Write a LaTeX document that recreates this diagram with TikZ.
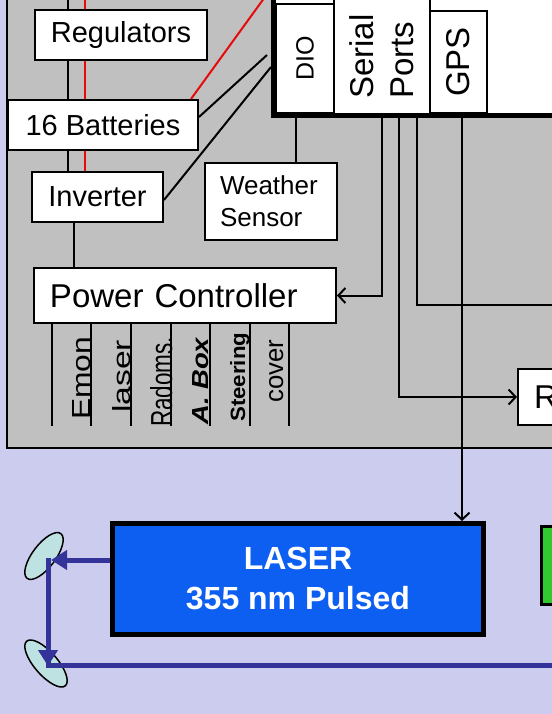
\documentclass[tikz,border=0pt]{standalone}
\usepackage{fontspec}
\usepackage{graphicx}
\setmainfont{Liberation Sans}
\usetikzlibrary{arrows.meta,shapes.geometric}
\definecolor{lav}{RGB}{204,204,238}
\definecolor{panel}{RGB}{192,192,192}
\definecolor{beamc}{RGB}{51,51,153}
\definecolor{laserc}{RGB}{12,95,240}
\definecolor{mirc}{RGB}{190,225,225}
\definecolor{grn}{RGB}{50,200,50}
\definecolor{redl}{RGB}{230,10,10}
\newcommand\fsz[2]{\fontsize{#1bp}{#2bp}\selectfont}
\pgfdeclarelayer{back}
\pgfdeclarelayer{wires}
\pgfsetlayers{back,wires,main}
\begin{document}
\begin{tikzpicture}[x=1bp,y=-1bp,
 box/.style={draw, line width=2bp, fill=white, inner sep=0pt},
 wire/.style={line width=2bp},
 redwire/.style={line width=2bp, draw=redl},
 arr/.style={line width=2bp, -{Straight Barb[length=7bp,width=15bp]}},
 beam/.style={line width=5bp, draw=beamc},
 beamarr/.style={beam, -{Triangle[length=16bp,width=19bp]}},
 vlab/.style={rotate=90, anchor=base west, inner sep=0pt},
 mirror/.style={ellipse, draw, line width=1.5bp, fill=mirc, inner sep=0pt},
]
\useasboundingbox (0,0) rectangle (552,714);
\begin{pgfonlayer}{back}
\fill[lav] (0,0) rectangle (552,714);
\draw[fill=panel, line width=2bp] (7,-20) rectangle (600,448);
\end{pgfonlayer}

% left column boxes
\node[box, minimum width=172bp, minimum height=50bp, font=\fsz{29}{34}] (reg) at (121,35) {Regulators};
\node[box, minimum width=190bp, minimum height=50bp, font=\fsz{29}{34}] (batt) at (103,125) {16 Batteries};
\node[box, minimum width=131bp, minimum height=50bp, font=\fsz{29}{34}] (inv) at (97.5,197) {Inverter};
\node[box, minimum width=132bp, minimum height=77bp, font=\fsz{26}{32}, align=left, text width=102bp, inner xsep=15bp] (ws) at (271,201.5) {Weather\\Sensor};
\node[box, minimum width=302bp, minimum height=55bp, font=\fsz{33}{38}, text width=270bp, align=left, inner xsep=16bp] (pc) at (185,295.5) {Power Controller};

% computer
\node[draw, line width=5bp, fill=white, minimum width=327bp, minimum height=165.5bp, inner sep=0pt] (comp) at (436.5,32.75) {};
\node[draw, line width=2bp, rotate=90, minimum width=109bp, minimum height=58bp, inner sep=0pt, font=\fsz{25}{30}] (dio) at (305,58.5) {DIO};
\draw[wire] (334,-5) -- (334,113);
\draw[wire] (430,-5) -- (430,113);
\node[rotate=90, anchor=south west, inner sep=0pt, align=left, font=\fsz{33}{40}] (sp) at (414,99) {Serial\\Ports};
\node[draw, fill=white, line width=2bp, rotate=90, minimum width=102bp, minimum height=57bp, inner sep=0pt, font=\fsz{33}{38}] (gps) at (458.5,62) {GPS};

% R box, laser, green box
\node[box, anchor=west, minimum height=56bp, text width=58bp, align=left, inner xsep=16bp, font=\fsz{33}{38}] (rbox) at (517,397) {R};
\node[draw, line width=5bp, fill=laserc, text=white, font=\bfseries\fsz{32}{40}, align=center, minimum width=371bp, minimum height=111bp, inner sep=0pt] (laser) at (298,579) {LASER\\355 nm Pulsed};
\node[draw, line width=2.5bp, fill=grn, minimum width=70bp, minimum height=78bp, anchor=north west, inner sep=0pt] (grnbox) at (540,525) {};

% labels under power controller
\node[vlab] (lemon) at (90,420) {\resizebox{83bp}{18bp}{Emon}};
\node[vlab] (llaser) at (130,413) {\resizebox{73bp}{18bp}{laser}};
\node[vlab] (lrad) at (172,427) {\resizebox{90bp}{22bp}{Radoms.}};
\node[vlab] (lbox) at (208,425) {\resizebox{87bp}{16bp}{\bfseries\itshape A. Box}};
\node[vlab] (lsteer) at (245,422) {\resizebox{89bp}{15bp}{\bfseries Steering}};
\node[vlab] (lcover) at (283,403) {\resizebox{63bp}{14bp}{cover}};

% mirrors
\node[mirror, rotate=53, minimum width=56bp, minimum height=23bp] (mir1) at (44,556) {};
\node[mirror, rotate=-49, minimum width=59bp, minimum height=23bp] (mir2) at (46,663.5) {};

\coordinate (topA) at (68,-5);
\coordinate (topR) at (85,-5);
\coordinate (d1) at (267,55);
\coordinate (d2) at (271,67);
\coordinate (rtop) at (270,-10);
\coordinate (off1) at (560,305);
\coordinate (m1) at (48,560);
\coordinate (m2) at (48,665);
\coordinate (bend) at (560,665);

\begin{pgfonlayer}{wires}
\draw[wire] (topA) -- (topA |- reg.north);
\draw[wire] (68,0 |- reg.south) -- (68,0 |- batt.north);
\draw[wire] (68,0 |- batt.south) -- (68,0 |- inv.north);
\draw[redwire] (topR) -- (topR |- batt.north);
\draw[redwire] (85,0 |- batt.south) -- (85,0 |- inv.north);
\draw[wire] (74,0 |- inv.south) -- (74,0 |- pc.north);
\draw[redwire] ([xshift=-8bp]batt.north east) -- (rtop);
\draw[wire] ([yshift=8bp]batt.east) -- (d1);
\draw[wire] ([yshift=-3bp]inv.east) -- (d2);
\foreach \x in {52,91,131,171,210,250,289} \draw[wire] (\x,0 |- pc.south) -- (\x,426);
\draw[wire] (296,0 |- comp.south) -- (296,0 |- ws.north);
\draw[wire] (417,0 |- comp.south) |- (off1);
\end{pgfonlayer}

\draw[arr] (382,0 |- comp.south) |- (pc.east);
\draw[arr] (399,0 |- comp.south) |- (rbox.west);
\draw[arr] (462,0 |- comp.south) -- (462,0 |- laser.north);

% beam
\draw[beam] ([yshift=2.5bp]m1) -- (m2) -- (bend);
\draw[beamarr] (m1 -| laser.west) -- ([xshift=3bp]m1);
\draw[beamarr] (m1) -- ([yshift=-1bp]m2);
\end{tikzpicture}
\end{document}
